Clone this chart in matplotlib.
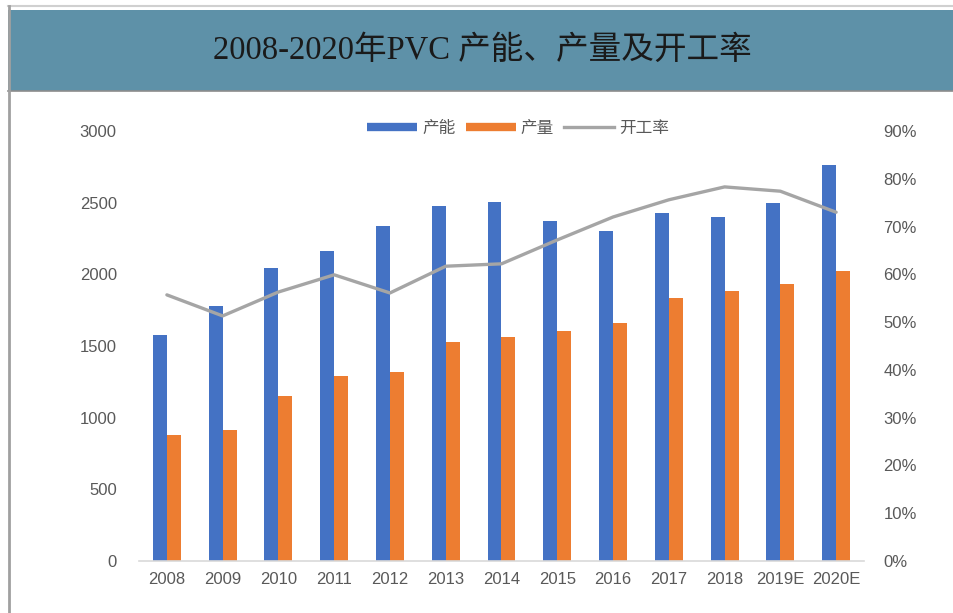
import matplotlib
matplotlib.use("Agg")
import matplotlib.pyplot as plt
from matplotlib.lines import Line2D
from matplotlib.patches import Rectangle
import numpy as np

years = ["2008", "2009", "2010", "2011", "2012", "2013", "2014", "2015",
         "2016", "2017", "2018", "2019E", "2020E"]
capacity = [1580, 1780, 2045, 2160, 2340, 2475, 2505, 2375, 2305, 2430, 2400, 2495, 2765]
output = [880, 915, 1150, 1290, 1320, 1530, 1565, 1605, 1660, 1835, 1885, 1930, 2020]
utilization = [0.557, 0.513, 0.563, 0.599, 0.561, 0.617, 0.622, 0.672, 0.720, 0.756, 0.783, 0.774, 0.730]
left_ticks = [0, 500, 1000, 1500, 2000, 2500, 3000]
right_ticks = [0, 0.1, 0.2, 0.3, 0.4, 0.5, 0.6, 0.7, 0.8, 0.9]

title = "2008-2020年PVC 产能、产量及开工率"
labels = ["产能", "产量", "开工率"]

BLUE = "#4472C4"
ORANGE = "#ED7D31"
GRAY = "#A5A5A5"
TXT = "#595959"

plt.rcParams['font.family'] = ['Liberation Sans', 'Noto Sans CJK SC', 'DejaVu Sans']

fig = plt.figure(figsize=(9.54, 6.13), dpi=100)

# banner
fig.patches.append(Rectangle((8/954, (613-91)/613), 1, 81/613, transform=fig.transFigure,
                             facecolor="#5E91A8", edgecolor="none", zorder=0))
fig.add_artist(Line2D([8/954, 1], [(613-91)/613]*2, transform=fig.transFigure, color="#8C8C8C", lw=1.2))
fig.add_artist(Line2D([8/954, 1], [(613-6)/613]*2, transform=fig.transFigure, color="#D0D0D0", lw=1.5))
fig.add_artist(Line2D([9/954]*2, [0, (613-6)/613], transform=fig.transFigure, color="#A0A0A0", lw=2))
fig.text(0.506, (613-51)/613, title, ha="center", va="center", fontsize=23.5,
         family=['Liberation Serif', 'Noto Sans CJK SC'], color="#1a1a1a", fontweight="medium")

ax = fig.add_axes([139/954, 52/613, (864-139)/954, (561-131)/613])
x = np.arange(len(years))
w = 0.25
ax.bar(x - w/2, capacity, width=w, color=BLUE, zorder=2)
ax.bar(x + w/2, output, width=w, color=ORANGE, zorder=2)
ax.set_xlim(-0.5, len(years) - 0.5)
ax.set_ylim(0, 3000)
ax.set_yticks(left_ticks)
ax.set_xticks(x)
ax.set_xticklabels(years)
for s in ["top", "right", "left"]:
    ax.spines[s].set_visible(False)
ax.spines["bottom"].set_color("#D9D9D9")
ax.spines["bottom"].set_linewidth(1.2)
ax.tick_params(axis="both", length=0, labelsize=12, colors=TXT)
ax.tick_params(axis="y", pad=16)
ax.tick_params(axis="x", pad=8)

ax2 = ax.twinx()
ax2.plot(x, utilization, color=GRAY, lw=2.4, zorder=3, solid_capstyle="round")
ax2.set_ylim(0, 0.9)
ax2.set_yticks(right_ticks)
ax2.set_yticklabels([f"{int(round(t*100))}%" for t in right_ticks])
for s in ["top", "right", "left", "bottom"]:
    ax2.spines[s].set_visible(False)
ax2.tick_params(axis="y", length=0, labelsize=12, colors=TXT, pad=14)

handles = [Line2D([], [], color=BLUE, lw=6, solid_capstyle="butt"),
           Line2D([], [], color=ORANGE, lw=6, solid_capstyle="butt"),
           Line2D([], [], color=GRAY, lw=2.4)]
leg = fig.legend(handles, labels, loc="center", bbox_to_anchor=(0.543, (613-128)/613), ncol=3,
                 frameon=False, fontsize=12, handlelength=3.0, handletextpad=0.3, columnspacing=0.6,
                 labelcolor=TXT)

fig.savefig("out.png", dpi=100)
